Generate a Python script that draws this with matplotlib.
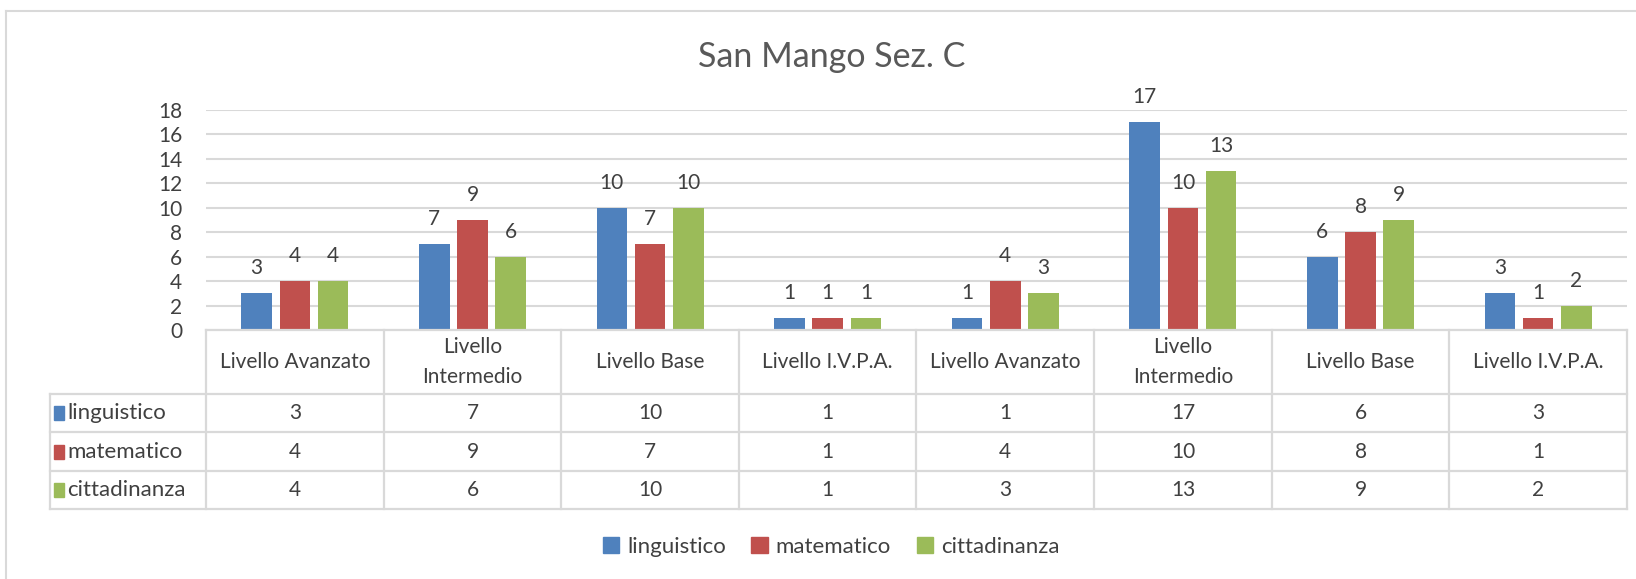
import numpy as np
import matplotlib

matplotlib.use("Agg")
import matplotlib.pyplot as plt
from matplotlib.patches import Rectangle

plt.rcParams["font.family"] = ["Lato", "DejaVu Sans"]

TITLE = "San Mango Sez. C"
categories = ["Livello Avanzato", "Livello\nIntermedio", "Livello Base", "Livello I.V.P.A.",
              "Livello Avanzato", "Livello\nIntermedio", "Livello Base", "Livello I.V.P.A."]
series_names = ["linguistico", "matematico", "cittadinanza"]
linguistico = [3, 7, 10, 1, 1, 17, 6, 3]
matematico = [4, 9, 7, 1, 4, 10, 8, 1]
cittadinanza = [4, 6, 10, 1, 3, 13, 9, 2]
yticks = [0, 2, 4, 6, 8, 10, 12, 14, 16, 18]

colors = ["#4f81bd", "#c0504d", "#9bbb59"]
TEXT = "#404040"
GRID = "#d9d9d9"
FS = 15

W, H = 1636, 579
fig = plt.figure(figsize=(W / 100, H / 100), dpi=100)


def px(x0, y0, x1, y1):
    # figure-pixel box (top-left origin) -> axes rect
    return [x0 / W, 1 - y1 / H, (x1 - x0) / W, (y1 - y0) / H]


# chart outer border (only top/left visible, chart is cropped right/bottom)
fig.add_artist(plt.Line2D([6 / W, 6 / W], [0, 1 - 11 / H], transform=fig.transFigure, color=GRID, lw=1.5))
fig.add_artist(plt.Line2D([6 / W, 1], [1 - 11 / H, 1 - 11 / H], transform=fig.transFigure, color=GRID, lw=1.5))

fig.text(832 / W, 1 - 57 / H, TITLE, ha="center", va="center", fontsize=24.5, color="#595959")

PLOT_L, PLOT_R, PLOT_T, PLOT_B = 206, 1627, 110, 330
ax = fig.add_axes(px(PLOT_L, PLOT_T, PLOT_R, PLOT_B))
n = len(categories)
x = np.arange(n)
data = [linguistico, matematico, cittadinanza]
bw, step = 0.172, 0.215
for i, (vals, c) in enumerate(zip(data, colors)):
    pos = x + (i - 1) * step
    ax.bar(pos, vals, width=bw, color=c, zorder=3)
    for xp, v in zip(pos, vals):
        ax.annotate(str(v), (xp, v), xytext=(0, 18), textcoords="offset points",
                    ha="center", va="center", fontsize=FS, color=TEXT)

ax.set_xlim(-0.5, n - 0.5)
ax.set_ylim(0, 18)
ax.set_yticks(yticks)
ax.tick_params(axis="y", length=0, labelsize=FS, labelcolor=TEXT, pad=17)
ax.set_xticks([])
ax.grid(axis="y", color=GRID, lw=1.5, zorder=0)
for s in ax.spines.values():
    s.set_visible(False)

# data table under the plot
TAB_L, TAB_T, TAB_B = 50, 330, 509
HEAD_H = 64
ROW_H = (TAB_B - TAB_T - HEAD_H) / 3
col_w = (PLOT_R - PLOT_L) / n
lab_cols = (PLOT_L - TAB_L) / col_w
tab = fig.add_axes(px(TAB_L, TAB_T, PLOT_R, TAB_B))
tab.set_xlim(-0.5 - lab_cols, n - 0.5)
tab.set_ylim(TAB_B - TAB_T, 0)
tab.axis("off")
lk = dict(color=GRID, lw=1.6, clip_on=False)
total = TAB_B - TAB_T
tab.plot([-0.5, n - 0.5], [0, 0], **lk)
for j in range(n + 1):
    tab.plot([j - 0.5, j - 0.5], [0, total], **lk)
tab.plot([-0.5 - lab_cols, -0.5 - lab_cols], [HEAD_H, total], **lk)
for r in range(4):
    yy = HEAD_H + r * ROW_H
    tab.plot([-0.5 - lab_cols, n - 0.5], [yy, yy], **lk)
for j, cat in enumerate(categories):
    tab.text(j, HEAD_H / 2, cat, ha="center", va="center", fontsize=FS, color=TEXT, linespacing=1.6)
x0 = -0.5 - lab_cols
for r, (name, vals, c) in enumerate(zip(series_names, data, colors)):
    yc = HEAD_H + (r + 0.5) * ROW_H
    tab.add_patch(Rectangle((x0 + 4 / col_w, yc - 7), 9.5 / col_w, 14, color=c, clip_on=False))
    tab.text(x0 + 17 / col_w, yc, name, ha="left", va="center", fontsize=16, color=TEXT)
    for j, v in enumerate(vals):
        tab.text(j, yc, str(v), ha="center", va="center", fontsize=FS, color=TEXT)

# legend
handles = [Rectangle((0, 0), 1, 1, color=c) for c in colors]
fig.legend(handles, series_names, loc="center", bbox_to_anchor=(831 / W, 1 - 547 / H), ncol=3,
           frameon=False, fontsize=16, labelcolor=TEXT, handlelength=0.75, handleheight=0.75,
           handletextpad=0.35, columnspacing=1.15)

fig.savefig("out.png", dpi=100, facecolor="white")
